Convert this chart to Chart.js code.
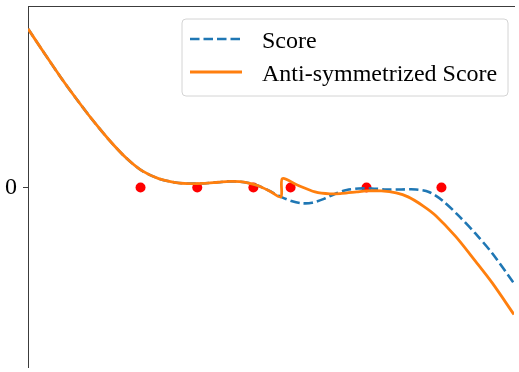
<!DOCTYPE html>
<html>
<head>
<meta charset="utf-8">
<script src="https://cdn.jsdelivr.net/npm/chart.js@4.4.1/dist/chart.umd.min.js"></script>
<style>
  html, body { margin: 0; padding: 0; background: #fff; overflow: hidden; }
  canvas { display: block; }
</style>
</head>
<body>
<canvas id="score-chart" width="519" height="372"></canvas>
<script>
// left part, identical for both curves
const sharedX = [0, 0.16, 0.33, 0.49, 0.65, 0.82, 0.99, 1.15, 1.32, 1.49, 1.62, 1.77, 1.92, 2.04, 2.14, 2.23, 2.32, 2.44, 2.555];
const sharedY = [1.605, 1.365, 1.115, 0.895, 0.685, 0.48, 0.30, 0.17, 0.09, 0.05, 0.04, 0.042, 0.053, 0.062, 0.059, 0.045, 0.02, -0.035, -0.095];

// Score, after the split
const scoreX = [2.67, 2.77, 2.87, 2.99, 3.10, 3.22, 3.34, 3.47, 3.62, 3.77, 3.92, 4.05, 4.19, 4.35, 4.52, 4.69, 4.91];
const scoreY = [-0.14, -0.16, -0.155, -0.115, -0.065, -0.025, -0.01, -0.01, -0.02, -0.02, -0.02, -0.045, -0.135, -0.285, -0.465, -0.665, -0.97];

// Anti-symmetrized Score, after the jump
const antiX = [2.57, 2.72, 2.90, 3.05, 3.17, 3.32, 3.42, 3.57, 3.72, 3.84, 3.99, 4.12, 4.32, 4.52, 4.69, 4.91];
const antiY = [0.09, 0.025, -0.045, -0.065, -0.06, -0.045, -0.035, -0.035, -0.055, -0.095, -0.185, -0.285, -0.495, -0.745, -0.965, -1.285];

// red sample points
const pointX = [1.137, 1.71, 2.277, 2.653, 3.42, 4.177];
const pointY = [0, 0, 0, 0, 0, 0];

const yTicks = [0];

const toXY = (xs, ys) => xs.map((x, i) => ({ x: x, y: ys[i] }));

const serif = "'Liberation Serif', 'Times New Roman', serif";
const spine = "#3c3c3c";

// matplotlib-like legend box inside the axes
const legendBox = {
    id: "legendBox",
    afterDraw(chart) {
        const ctx = chart.ctx;
        const x = 182, y = 19, w = 326, h = 77, r = 4;
        ctx.save();
        ctx.beginPath();
        ctx.moveTo(x + r, y);
        ctx.arcTo(x + w, y, x + w, y + h, r);
        ctx.arcTo(x + w, y + h, x, y + h, r);
        ctx.arcTo(x, y + h, x, y, r);
        ctx.arcTo(x, y, x + w, y, r);
        ctx.closePath();
        ctx.fillStyle = "rgba(255,255,255,0.8)";
        ctx.fill();
        ctx.strokeStyle = "#d4d4d4";
        ctx.lineWidth = 1;
        ctx.stroke();

        const rows = [39, 72];
        chart.data.datasets.slice(0, 2).forEach((ds, i) => {
            ctx.beginPath();
            ctx.setLineDash(ds.borderDash || []);
            ctx.strokeStyle = ds.borderColor;
            ctx.lineWidth = ds.borderWidth;
            ctx.moveTo(190, rows[i]);
            ctx.lineTo(242, rows[i]);
            ctx.stroke();
            ctx.setLineDash([]);
            ctx.fillStyle = "#000";
            ctx.font = "24px " + serif;
            ctx.textBaseline = "alphabetic";
            ctx.fillText(ds.label, 262, rows[i] + 9);
        });
        ctx.restore();
    },
};

const ctx = document.getElementById("score-chart").getContext("2d");
new Chart(ctx, {
    type: "scatter",
    data: {
        datasets: [
            {
                label: "Score",
                data: toXY(sharedX.concat(scoreX), sharedY.concat(scoreY)),
                showLine: true,
                borderColor: "#1f77b4",
                borderWidth: 2.6,
                borderDash: [9.5, 4],
                pointRadius: 0,
                tension: 0.3,
                order: 1,
            },
            {
                label: "Anti-symmetrized Score",
                data: toXY(sharedX.concat(antiX), sharedY.concat(antiY)),
                showLine: true,
                borderColor: "#ff7f0e",
                borderWidth: 2.8,
                pointRadius: 0,
                tension: 0.3,
                order: 0,
            },
            {
                label: "points",
                data: toXY(pointX, pointY),
                showLine: false,
                pointRadius: 5,
                pointBackgroundColor: "#ff0000",
                pointBorderWidth: 0,
                order: 2,
            },
        ],
    },
    options: {
        responsive: false,
        animation: false,
        layout: { padding: { top: 6, left: 0, right: 0, bottom: 0 } },
        plugins: {
            legend: { display: false },
            tooltip: { enabled: false },
        },
        scales: {
            x: {
                type: "linear",
                position: "top",
                min: 0,
                max: 4.91,
                ticks: { display: false },
                grid: { display: false, drawTicks: false },
                border: { display: true, color: spine, width: 1 },
            },
            y: {
                type: "linear",
                position: "left",
                min: -1.815,
                max: 1.835,
                afterBuildTicks: (axis) => {
                    axis.ticks = yTicks.map((v) => ({ value: v }));
                },
                afterFit: (axis) => {
                    axis.width = 28;
                    axis.paddingTop = 0;
                    axis.paddingBottom = 0;
                },
                ticks: {
                    font: { family: serif, size: 24 },
                    color: "#000",
                    padding: 6,
                },
                grid: {
                    drawOnChartArea: false,
                    tickLength: 5,
                    tickColor: spine,
                    tickWidth: 1,
                },
                border: { display: true, color: spine, width: 1 },
            },
        },
    },
    plugins: [legendBox],
});
</script>
</body>
</html>
